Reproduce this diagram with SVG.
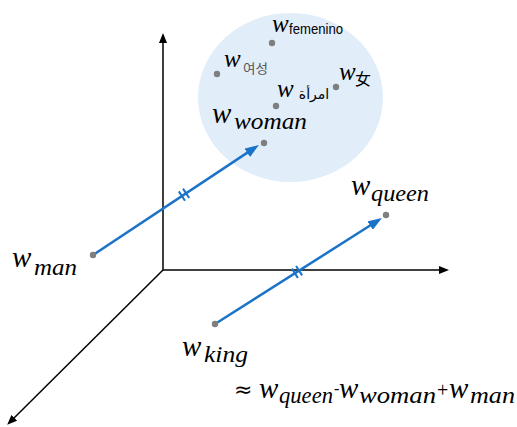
<svg xmlns="http://www.w3.org/2000/svg" width="517" height="427" viewBox="0 0 517 427">
<style>
.w{font-family:"Liberation Serif",serif;font-style:italic;fill:#000}
.big{font-size:29px}
.mid{font-size:25px}
.sub{font-family:"Liberation Serif",serif;font-style:italic;font-size:23px;fill:#000}
.sans{font-family:"Liberation Sans","Noto Sans CJK KR",sans-serif;fill:#000}
.dot{fill:#7f7f7f}
.axis{stroke:#000;stroke-width:1.5;fill:none}
.vec{stroke:#1a73c8;stroke-width:2.5;fill:none}
.tick{stroke:#1a73c8;stroke-width:2}
</style>
<defs>
<marker id="ah" markerUnits="userSpaceOnUse" markerWidth="10" markerHeight="8" refX="6" refY="4" orient="auto" viewBox="0 0 10 8">
<path d="M0,0 L10,4 L0,8 z" fill="#000"/>
</marker>
<marker id="bh" markerUnits="userSpaceOnUse" markerWidth="14" markerHeight="10" refX="6" refY="5" orient="auto" viewBox="0 0 14 10">
<path d="M0,0 L14,5 L0,10 z" fill="#1a73c8"/>
</marker>
</defs>
<g id="cluster">
<ellipse cx="290.5" cy="97.5" rx="92.5" ry="84.5" fill="#e1edf9"/>
</g>
<g id="axes">
<line class="axis" x1="163" y1="270" x2="163" y2="37" marker-end="url(#ah)"/>
<line class="axis" x1="163" y1="270" x2="445" y2="270" marker-end="url(#ah)"/>
<line class="axis" x1="163" y1="270" x2="10" y2="422" marker-end="url(#ah)"/>
</g>
<g id="connectors">
<line class="vec" x1="93" y1="255" x2="252.3" y2="149.4" marker-end="url(#bh)"/>
<line class="tick" x1="178.8" y1="191.4" x2="185.0" y2="200.8"/>
<line class="tick" x1="183.0" y1="188.6" x2="189.2" y2="198.0"/>
<line class="vec" x1="215" y1="324" x2="375.2" y2="222.3" marker-end="url(#bh)"/>
<line class="tick" x1="291.9" y1="268.6" x2="297.9" y2="278.0"/>
<line class="tick" x1="296.1" y1="266.0" x2="302.1" y2="275.4"/>
</g>
<g id="femenino">
<circle class="dot" cx="272" cy="43" r="3.2"/>
<text class="w mid" x="272" y="32">w</text>
<text class="sans" x="289" y="34" font-size="14" textLength="54" lengthAdjust="spacingAndGlyphs">femenino</text>
</g>
<g id="yeoseong">
<circle class="dot" cx="217" cy="74" r="3.2"/>
<text class="w mid" x="224" y="67">w</text>
<text class="sans" x="243" y="73" font-size="13" style="fill:#555" textLength="25" lengthAdjust="spacingAndGlyphs">여성</text>
</g>
<g id="nv">
<circle class="dot" cx="336" cy="87" r="3.2"/>
<text class="w mid" x="339" y="80">w</text>
<text x="355" y="85" font-size="16" font-family="'Noto Sans CJK SC',sans-serif">女</text>
</g>
<g id="imraa">
<circle class="dot" cx="276" cy="106" r="3.2"/>
<text class="w mid" x="277" y="97">w</text>
<text x="314" y="99" font-size="14" text-anchor="middle" font-family="'DejaVu Sans',sans-serif">امرأة</text>
</g>
<g id="woman">
<circle class="dot" cx="264" cy="143" r="3.2"/>
<text class="w big" x="212" y="123">w</text>
<text class="sub" x="234" y="129" textLength="73" lengthAdjust="spacingAndGlyphs">woman</text>
</g>
<g id="man">
<circle class="dot" cx="93" cy="255" r="3.2"/>
<text class="w big" x="12" y="267">w</text>
<text class="sub" x="34" y="275" textLength="43" lengthAdjust="spacingAndGlyphs">man</text>
</g>
<g id="queen">
<circle class="dot" cx="386" cy="215" r="3.2"/>
<text class="w big" x="351" y="195">w</text>
<text class="sub" x="371" y="201" textLength="58" lengthAdjust="spacingAndGlyphs">queen</text>
</g>
<g id="king">
<circle class="dot" cx="215" cy="324" r="3.2"/>
<text class="w big" x="182" y="356">w</text>
<text class="sub" x="204" y="362" textLength="44" lengthAdjust="spacingAndGlyphs">king</text>
</g>
<g id="formula">
<text x="234" y="397" font-size="22" font-family="'DejaVu Sans',sans-serif">≈</text>
<text class="w big" x="259" y="398">w</text>
<text class="sub" x="279" y="403" textLength="54" lengthAdjust="spacingAndGlyphs">queen</text>
<text x="334" y="394" font-size="16" font-family="'Liberation Serif',serif">-</text>
<text class="w big" x="339" y="398">w</text>
<text class="sub" x="359" y="403" textLength="77" lengthAdjust="spacingAndGlyphs">woman</text>
<text x="437" y="397" font-size="20" font-family="'Liberation Serif',serif">+</text>
<text class="w big" x="449" y="398">w</text>
<text class="sub" x="470" y="403" textLength="45" lengthAdjust="spacingAndGlyphs">man</text>
</g>
</svg>
